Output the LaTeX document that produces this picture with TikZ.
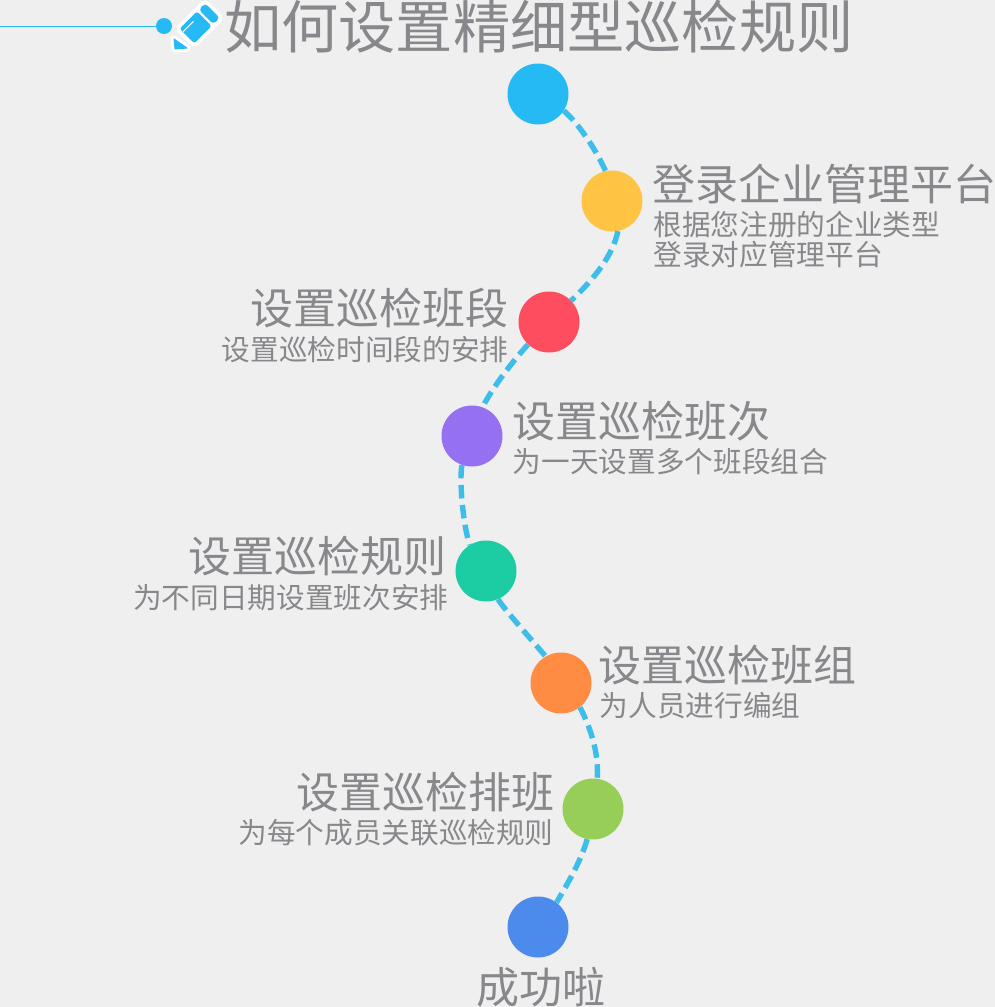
\documentclass[tikz,border=0pt]{standalone}
\usepackage{fontspec}
\setmainfont{Noto Sans CJK SC}
\definecolor{bgc}{HTML}{EFEFEF}
\definecolor{txt}{HTML}{88888C}
\definecolor{skyc}{HTML}{25BAF4}
\definecolor{dashc}{HTML}{3DBDEA}
\definecolor{c2}{HTML}{FFC444}
\definecolor{c3}{HTML}{FF4D60}
\definecolor{c4}{HTML}{9570F0}
\definecolor{c5}{HTML}{1CCDA4}
\definecolor{c6}{HTML}{FF8C42}
\definecolor{c7}{HTML}{97CE58}
\definecolor{c8}{HTML}{4C8BEC}
\tikzset{
  dot/.style={circle,minimum size=61pt,inner sep=0pt,fill=#1},
  link/.style={draw=dashc,line width=5.4pt,dash pattern=on 13.5pt off 6.5pt},
  head/.style={inner sep=0pt,text=txt,font=\fontsize{43}{45}\selectfont},
  subt/.style={inner sep=0pt,text=txt,align=left,font=\fontsize{28.65}{30}\selectfont},
  titlet/.style={inner sep=0pt,text=txt,text height=46pt,text depth=6pt,font=\fontsize{57.2}{60}\selectfont},
}
\begin{document}
\begin{tikzpicture}[x=1pt,y=-1pt]
\useasboundingbox[fill=bgc] (0,0) rectangle (995,1007);
% top rule and pencil
\coordinate (ruleStart) at (0,26);
\node[circle,fill=skyc,minimum size=16pt,inner sep=0pt] (ruleDot) at (164,26) {};
\draw[skyc,line width=1pt] (ruleStart) -- (ruleDot);
\begin{scope}[shift={(199,24)},rotate=45]
  \fill[white,rounded corners=6pt] (-21,-14) rectangle (22.5,14);
  \filldraw[draw=white,fill=white,line width=7pt,line join=round] (-28.3,-7) -- (-25.5,8.5) -- (-34.6,0.7) -- cycle;
  \fill[skyc,rounded corners=2.5pt] (-17,-10.3) rectangle (7.5,10.3);
  \fill[skyc,rounded corners=3.5pt] (10,-10.3) rectangle (19,10.3);
  \filldraw[draw=skyc,fill=skyc,line width=1pt,line join=round] (-28.3,-7) -- (-25.5,8.5) -- (-34.6,0.7) -- cycle;
  \draw[white,line width=1pt] (-17,-5.7) -- (-2,-5.7);
\end{scope}
\node[titlet,anchor=west] (title) at (224,28) {如何设置精细型巡检规则};
% circles
\node[dot=skyc] (n1) at (538,94) {};
\node[dot=c2] (n2) at (612,201) {};
\node[dot=c3] (n3) at (549,322) {};
\node[dot=c4] (n4) at (472,436) {};
\node[dot=c5] (n5) at (486,571) {};
\node[dot=c6] (n6) at (561,683) {};
\node[dot=c7] (n7) at (593,809) {};
\node[dot=c8] (n8) at (538,927) {};
% connectors
\draw[link] (n1.-33) .. controls (578,123) and (595,148) .. (n2.102);
\draw[link] (n2.-79) .. controls (613,255) and (595,278) .. (n3.44);
\draw[link] (n3.227) .. controls (512,362) and (493,387) .. (n4.70);
\draw[link] (n4.251) .. controls (459,480) and (463,525) .. (n5.122);
\draw[link] (n5.-67) .. controls (505,610) and (530,638) .. (n6.120);
\draw[link] (n6.-52) .. controls (589,725) and (599,750) .. (n7.82);
\draw[link] (n7.259) .. controls (582,858) and (570,880) .. (n8.53);
% labels
\node[head,anchor=west] (h2) at (652.4,184) {登录企业管理平台};
\node[subt,anchor=north west] (s2) at (653.4,210.5) {根据您注册的企业类型\\登录对应管理平台};
\node[head,anchor=east] (h3) at (508.6,308) {设置巡检班段};
\node[subt,anchor=east] (s3) at (508.6,349.5) {设置巡检时间段的安排};
\node[head,anchor=west] (h4) at (512,421) {设置巡检班次};
\node[subt,anchor=west] (s4) at (512.6,461.5) {为一天设置多个班段组合};
\node[head,anchor=east] (h5) at (447,556) {设置巡检规则};
\node[subt,anchor=east] (s5) at (448.6,597.5) {为不同日期设置班次安排};
\node[head,anchor=west] (h6) at (598.4,665) {设置巡检班组};
\node[subt,anchor=west] (s6) at (599.6,705.5) {为人员进行编组};
\node[head,anchor=east] (h7) at (554.4,792) {设置巡检排班};
\node[subt,anchor=east] (s7) at (553.8,832.5) {为每个成员关联巡检规则};
\node[head] (h8) at (540.5,987) {成功啦};
\end{tikzpicture}
\end{document}
